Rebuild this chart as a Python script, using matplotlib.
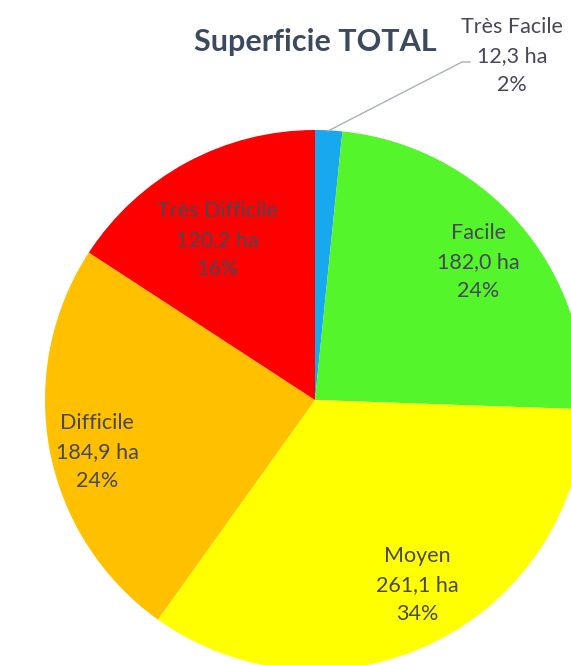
import matplotlib
matplotlib.use("Agg")
import matplotlib.pyplot as plt

categories = ["Très Facile", "Facile", "Moyen", "Difficile", "Très Difficile"]
areas_ha = [12.3, 182.0, 261.1, 184.9, 120.2]
percent_labels = ["2%", "24%", "34%", "24%", "16%"]
colors = ["#18A8EE", "#55F52B", "#FFFF00", "#FFC000", "#FF0000"]
title = "Superficie TOTAL"

# label positions (layout, in axis units of pie radius)
label_pos = [(0.73, 1.274), (0.604, 0.511), (0.378, -0.685), (-0.807, -0.193), (-0.363, 0.593)]

W, H = 571, 665
fig = plt.figure(figsize=(W / 100, H / 100), dpi=100)
cx, cy, r = 315, 400, 270
ax = fig.add_axes([(cx - r) / W, (H - cy - r) / H, 2 * r / W, 2 * r / H])
ax.pie(areas_ha, colors=colors, startangle=90, counterclock=False, radius=1,
       wedgeprops=dict(linewidth=0))
ax.set_xlim(-1, 1)
ax.set_ylim(-1, 1)
ax.set_aspect("equal")
ax.axis("off")

font = ["Lato", "DejaVu Sans"]
tc = "#474757"
for i, (cat, a, p) in enumerate(zip(categories, areas_ha, percent_labels)):
    txt = f"{cat}\n{a:.1f}".replace(".", ",") + f" ha\n{p}"
    x, y = label_pos[i]
    ax.text(x, y, txt, ha="center", va="center", fontsize=15.5, color=tc,
            family=font, linespacing=1.55, clip_on=False)

# leader line for small slice
ax.plot([(328 - cx) / r, (462 - cx) / r, (470 - cx) / r],
        [(cy - 131) / r, (cy - 62) / r, (cy - 62) / r],
        color="#A8B0BC", lw=1, clip_on=False)

fig.text(315 / W, 1 - 42 / H, title, ha="center", va="center", fontsize=22,
         fontweight="bold", color="#3B4A5E", family=font)

fig.savefig("out.png", dpi=100)
